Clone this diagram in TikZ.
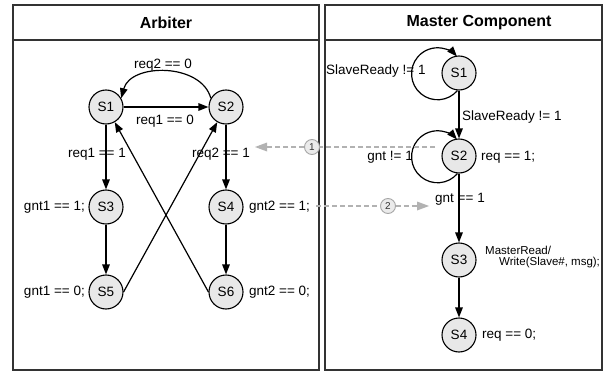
\documentclass[tikz,border=0pt]{standalone}
\usepackage{fontspec}
\setmainfont{Liberation Sans}
\usetikzlibrary{arrows.meta}

\begin{document}
\begin{tikzpicture}[x=1pt,y=1pt,
  panel/.style={draw=black!80, line width=1.4pt},
  title/.style={font=\fontsize{16}{18}\selectfont\bfseries, inner sep=0pt},
  state/.style={circle, draw=black, line width=1.1pt, fill=black!9,
    minimum size=34pt, inner sep=0pt, font=\fontsize{13.5}{15}\selectfont},
  lab/.style={inner sep=0pt, font=\fontsize{13.5}{15}\selectfont},
  smalllab/.style={inner sep=0pt, font=\fontsize{11.5}{13}\selectfont},
  trans/.style={line width=1.2pt, -{Triangle[length=10pt,width=7.5pt]}},
  signal/.style={draw=black!30, line width=2.5pt, dash pattern=on 5pt off 3pt},
  sigtip/.style={-{Triangle[length=12pt,width=9pt,line width=0pt,fill=black!30,color=black!30]}},
  marker/.style={circle, draw=black!35, line width=0.9pt, fill=black!8,
    minimum size=15pt, inner sep=0pt, font=\fontsize{10}{11}\selectfont, text=black!80}
]
\useasboundingbox (0,0) rectangle (605,373);
\fill[white] (0,0) rectangle (605,373);

% panel frames with title bands
\draw[panel] (13,3) rectangle (319,368);
\draw[panel] (13,333) -- (319,333);
\draw[panel] (325,3) rectangle (602,368);
\draw[panel] (325,333) -- (602,333);
\node[title] (tArb) at (166,350) {Arbiter};
\node[title] (tMas) at (479,350) {Master Component};

% arbiter states
\node[state] (S1) at (106,266) {S1};
\node[state] (S2) at (226,266) {S2};
\node[state] (S3) at (106,166) {S3};
\node[state] (S4) at (226,166) {S4};
\node[state] (S5) at (106,81) {S5};
\node[state] (S6) at (226,81) {S6};

% arbiter transitions
\draw[trans] (S1) -- (S2);
\draw[trans] (S2.150) to[out=105,in=75,looseness=1.05] (S1.30);
\draw[trans] (S1) -- (S3);
\draw[trans] (S3) -- (S5);
\draw[trans] (S2) -- (S4);
\draw[trans] (S4) -- (S6);
\draw[trans] (S5.east) -- (S2.-120);
\draw[trans] (S6.west) -- (S1.-60);

% arbiter labels
\node[lab] (l21) at (163,308) {req2 == 0};
\node[lab] (l12) at (165,252) {req1 == 0};
\node[lab] (l13) at (97,219) {req1 == 1};
\node[lab] (l24) at (221,219) {req2 == 1};
\node[lab, anchor=east] (o3) at (85,166) {gnt1 == 1;};
\node[lab, anchor=west] (o4) at (249,166) {gnt2 == 1;};
\node[lab, anchor=east] (o5) at (85,81) {gnt1 == 0;};
\node[lab, anchor=west] (o6) at (249,81) {gnt2 == 0;};

% master states
\node[state] (mS1) at (459,300) {S1};
\node[state] (mS2) at (459,217) {S2};
\node[state] (mS3) at (459,113) {S3};
\node[state] (mS4) at (459,38) {S4};

% master transitions
\draw[trans] (mS1.-95) arc[start angle=-40, end angle=-318, radius=26];
\draw[trans] (mS2.-95) arc[start angle=-40, end angle=-318, radius=26];
\draw[trans] (mS1) -- (mS2);
\draw[trans] (mS2) -- (mS3);
\draw[trans] (mS3) -- (mS4);

% master labels
\node[lab, anchor=west] (m11) at (326,302) {SlaveReady != 1};
\node[lab, anchor=west] (m12) at (462,256) {SlaveReady != 1};
\node[lab, anchor=east] (m22) at (413,216) {gnt != 1};
\node[lab, anchor=west] (mo2) at (481,216) {req == 1;};
\node[lab] (m23) at (460,174) {gnt == 1};
\node[smalllab, anchor=west] (mo3a) at (485,123) {MasterRead/};
\node[smalllab, anchor=west] (mo3b) at (499,110) {Write(Slave\#, msg);};
\node[lab, anchor=west] (mo4) at (482,38) {req == 0;};

% signals between the two machines
\coordinate (d1s) at (435,226);
\coordinate (d1e) at (255,226);
\node[marker] (c1) at (312,226) {1};
\draw[signal] (d1s) -- (c1);
\draw[signal, sigtip] (c1) -- (d1e);

\coordinate (d2s) at (316,167);
\coordinate (d2e) at (429,167);
\node[marker] (c2) at (388,167) {2};
\draw[signal] (d2s) -- (c2);
\draw[signal, sigtip] (c2) -- (d2e);
\end{tikzpicture}
\end{document}
